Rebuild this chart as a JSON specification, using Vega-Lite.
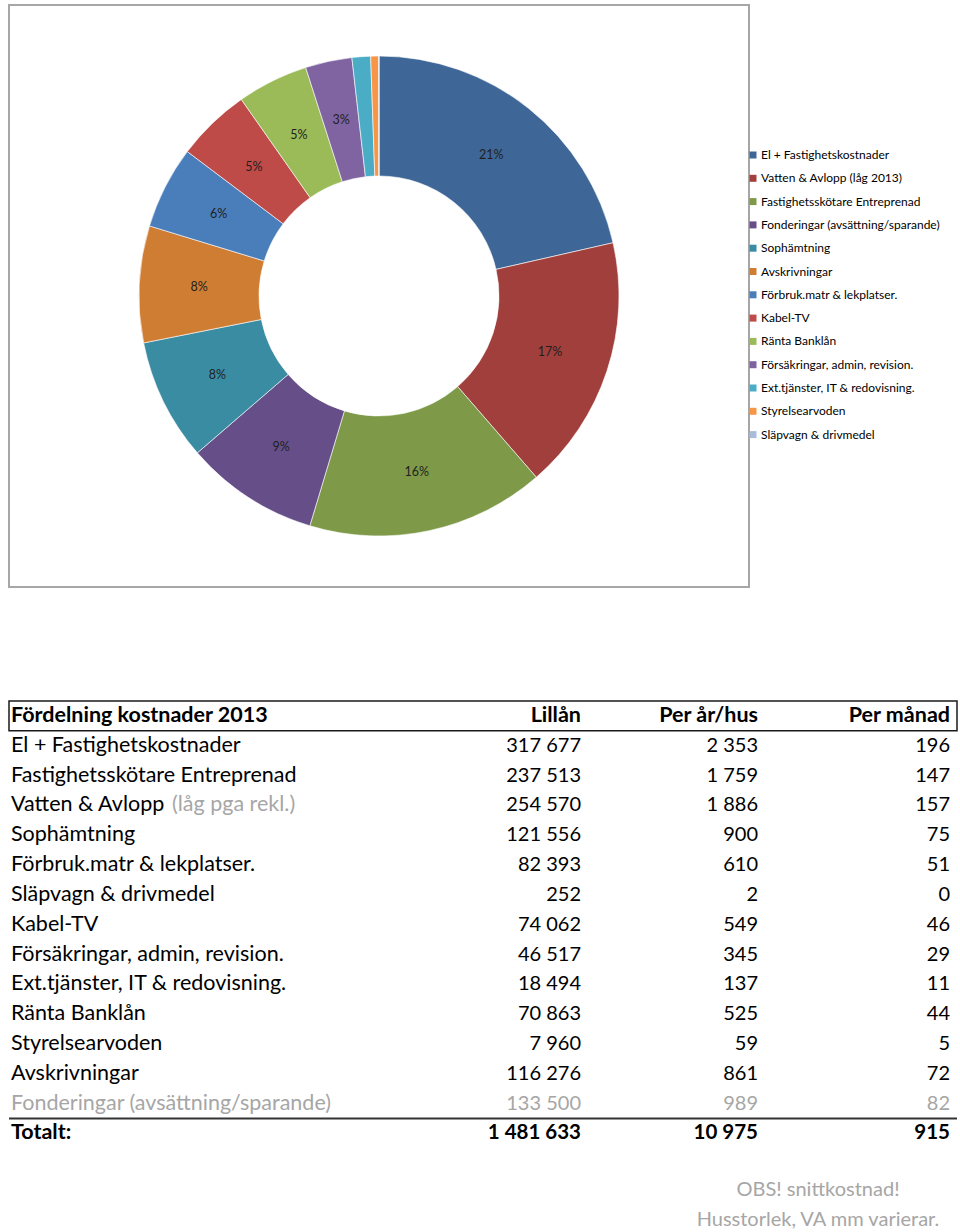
{
  "$schema": "https://vega.github.io/schema/vega-lite/v6.json",
  "padding": {"left": 8, "top": 4, "right": 4, "bottom": 0},
  "background": "white",
  "config": {"view": {"stroke": null}, "font": "Lato"},
  "datasets": {
    "costs": [
      {"idx": 1, "post": "El + Fastighetskostnader", "lillan": 317677, "pct": "21%"},
      {"idx": 2, "post": "Vatten & Avlopp (låg 2013)", "lillan": 254570, "pct": "17%"},
      {"idx": 3, "post": "Fastighetsskötare Entreprenad", "lillan": 237513, "pct": "16%"},
      {"idx": 4, "post": "Fonderingar (avsättning/sparande)", "lillan": 133500, "pct": "9%"},
      {"idx": 5, "post": "Sophämtning", "lillan": 121556, "pct": "8%"},
      {"idx": 6, "post": "Avskrivningar", "lillan": 116276, "pct": "8%"},
      {"idx": 7, "post": "Förbruk.matr & lekplatser.", "lillan": 82393, "pct": "6%"},
      {"idx": 8, "post": "Kabel-TV", "lillan": 74062, "pct": "5%"},
      {"idx": 9, "post": "Ränta Banklån", "lillan": 70863, "pct": "5%"},
      {"idx": 10, "post": "Försäkringar, admin, revision.", "lillan": 46517, "pct": "3%"},
      {"idx": 11, "post": "Ext.tjänster, IT & redovisning.", "lillan": 18494, "pct": "1%"},
      {"idx": 12, "post": "Styrelsearvoden", "lillan": 7960, "pct": "1%"},
      {"idx": 13, "post": "Släpvagn & drivmedel", "lillan": 252, "pct": "0%"}
    ],
    "table": [
      {"r": "h", "c": 0, "t": "Fördelning kostnader 2013", "kind": "header"},
      {"r": "h", "c": 1, "t": "Lillån", "kind": "header"},
      {"r": "h", "c": 2, "t": "Per år/hus", "kind": "header"},
      {"r": "h", "c": 3, "t": "Per månad", "kind": "header"},
      {"r": "r1", "c": 0, "t": "El + Fastighetskostnader", "kind": "item"},
      {"r": "r1", "c": 1, "t": "317 677", "kind": "item"},
      {"r": "r1", "c": 2, "t": "2 353", "kind": "item"},
      {"r": "r1", "c": 3, "t": "196", "kind": "item"},
      {"r": "r2", "c": 0, "t": "Fastighetsskötare Entreprenad", "kind": "item"},
      {"r": "r2", "c": 1, "t": "237 513", "kind": "item"},
      {"r": "r2", "c": 2, "t": "1 759", "kind": "item"},
      {"r": "r2", "c": 3, "t": "147", "kind": "item"},
      {"r": "r3", "c": 0, "t": "Vatten & Avlopp", "kind": "item"},
      {"r": "r3", "c": 0, "t": "(låg pga rekl.)", "kind": "remark"},
      {"r": "r3", "c": 1, "t": "254 570", "kind": "item"},
      {"r": "r3", "c": 2, "t": "1 886", "kind": "item"},
      {"r": "r3", "c": 3, "t": "157", "kind": "item"},
      {"r": "r4", "c": 0, "t": "Sophämtning", "kind": "item"},
      {"r": "r4", "c": 1, "t": "121 556", "kind": "item"},
      {"r": "r4", "c": 2, "t": "900", "kind": "item"},
      {"r": "r4", "c": 3, "t": "75", "kind": "item"},
      {"r": "r5", "c": 0, "t": "Förbruk.matr & lekplatser.", "kind": "item"},
      {"r": "r5", "c": 1, "t": "82 393", "kind": "item"},
      {"r": "r5", "c": 2, "t": "610", "kind": "item"},
      {"r": "r5", "c": 3, "t": "51", "kind": "item"},
      {"r": "r6", "c": 0, "t": "Släpvagn & drivmedel", "kind": "item"},
      {"r": "r6", "c": 1, "t": "252", "kind": "item"},
      {"r": "r6", "c": 2, "t": "2", "kind": "item"},
      {"r": "r6", "c": 3, "t": "0", "kind": "item"},
      {"r": "r7", "c": 0, "t": "Kabel-TV", "kind": "item"},
      {"r": "r7", "c": 1, "t": "74 062", "kind": "item"},
      {"r": "r7", "c": 2, "t": "549", "kind": "item"},
      {"r": "r7", "c": 3, "t": "46", "kind": "item"},
      {"r": "r8", "c": 0, "t": "Försäkringar, admin, revision.", "kind": "item"},
      {"r": "r8", "c": 1, "t": "46 517", "kind": "item"},
      {"r": "r8", "c": 2, "t": "345", "kind": "item"},
      {"r": "r8", "c": 3, "t": "29", "kind": "item"},
      {"r": "r9", "c": 0, "t": "Ext.tjänster, IT & redovisning.", "kind": "item"},
      {"r": "r9", "c": 1, "t": "18 494", "kind": "item"},
      {"r": "r9", "c": 2, "t": "137", "kind": "item"},
      {"r": "r9", "c": 3, "t": "11", "kind": "item"},
      {"r": "r10", "c": 0, "t": "Ränta Banklån", "kind": "item"},
      {"r": "r10", "c": 1, "t": "70 863", "kind": "item"},
      {"r": "r10", "c": 2, "t": "525", "kind": "item"},
      {"r": "r10", "c": 3, "t": "44", "kind": "item"},
      {"r": "r11", "c": 0, "t": "Styrelsearvoden", "kind": "item"},
      {"r": "r11", "c": 1, "t": "7 960", "kind": "item"},
      {"r": "r11", "c": 2, "t": "59", "kind": "item"},
      {"r": "r11", "c": 3, "t": "5", "kind": "item"},
      {"r": "r12", "c": 0, "t": "Avskrivningar", "kind": "item"},
      {"r": "r12", "c": 1, "t": "116 276", "kind": "item"},
      {"r": "r12", "c": 2, "t": "861", "kind": "item"},
      {"r": "r12", "c": 3, "t": "72", "kind": "item"},
      {"r": "r13", "c": 0, "t": "Fonderingar (avsättning/sparande)", "kind": "reserve"},
      {"r": "r13", "c": 1, "t": "133 500", "kind": "reserve"},
      {"r": "r13", "c": 2, "t": "989", "kind": "reserve"},
      {"r": "r13", "c": 3, "t": "82", "kind": "reserve"},
      {"r": "tot", "c": 0, "t": "Totalt:", "kind": "total"},
      {"r": "tot", "c": 1, "t": "1 481 633", "kind": "total"},
      {"r": "tot", "c": 2, "t": "10 975", "kind": "total"},
      {"r": "tot", "c": 3, "t": "915", "kind": "total"},
      {"r": "n1", "c": 3, "t": "OBS! snittkostnad!", "kind": "footnote"},
      {"r": "n2", "c": 3, "t": "Husstorlek, VA mm varierar.", "kind": "footnote"}
    ]
  },
  "vconcat": [
    {
      "width": 740,
      "height": 582,
      "view": {"stroke": "#a6a6a6", "strokeWidth": 2},
      "data": {"name": "costs"},
      "layer": [
        {
          "mark": {"type": "arc", "innerRadius": 120, "outerRadius": 240, "stroke": "#ffffff", "strokeWidth": 0.6},
          "encoding": {
            "theta": {"field": "lillan", "type": "quantitative", "stack": true},
            "order": {"field": "idx", "type": "quantitative"},
            "color": {
              "field": "post",
              "type": "nominal",
              "scale": {
                "domain": ["El + Fastighetskostnader", "Vatten & Avlopp (låg 2013)", "Fastighetsskötare Entreprenad", "Fonderingar (avsättning/sparande)", "Sophämtning", "Avskrivningar", "Förbruk.matr & lekplatser.", "Kabel-TV", "Ränta Banklån", "Försäkringar, admin, revision.", "Ext.tjänster, IT & redovisning.", "Styrelsearvoden", "Släpvagn & drivmedel"],
                "range": ["#3e6797", "#a13f3c", "#7e9a49", "#664f88", "#3a8ca3", "#d07d34", "#4a7ebb", "#be4b48", "#9bbb59", "#8064a2", "#4bacc6", "#f79646", "#a9bcd9"]
              },
              "legend": {
                "title": null,
                "orient": "none",
                "legendX": 738,
                "legendY": 144,
                "symbolType": "square",
                "symbolSize": 49,
                "symbolStrokeWidth": 0,
                "labelFontSize": 12,
                "labelColor": "#000000",
                "labelOffset": 2,
                "labelLimit": 400,
                "rowPadding": 11.3,
                "padding": 0
              }
            }
          }
        },
        {
          "transform": [{"filter": "datum.lillan > 20000"}],
          "mark": {"type": "text", "radius": 180, "fontSize": 12.5, "color": "#1f1f1f"},
          "encoding": {
            "theta": {"field": "lillan", "type": "quantitative", "stack": true},
            "order": {"field": "idx", "type": "quantitative"},
            "text": {"field": "pct", "type": "nominal"}
          }
        }
      ]
    },
    {
      "width": 948,
      "height": 507,
      "data": {"name": "table"},
      "encoding": {
        "y": {
          "field": "r",
          "type": "ordinal",
          "axis": null,
          "scale": {
            "domain": ["h", "r1", "r2", "r3", "r4", "r5", "r6", "r7", "r8", "r9", "r10", "r11", "r12", "r13", "tot", "n1", "n2"],
            "paddingInner": 0,
            "paddingOuter": 0
          }
        }
      },
      "layer": [
        {
          "transform": [{"filter": "datum.kind == 'header' && datum.c == 0"}],
          "mark": {"type": "rect", "filled": false, "stroke": "#1a1a1a", "strokeWidth": 1.5}
        },
        {
          "transform": [{"filter": "datum.kind == 'total' && datum.c == 0"}],
          "mark": {"type": "rule", "color": "#333333", "strokeWidth": 2},
          "encoding": {
            "y": {"field": "r", "type": "ordinal", "bandPosition": 0}
          }
        },
        {
          "transform": [{"filter": "(datum.kind == 'item' || datum.kind == 'reserve') && datum.c == 0"}],
          "mark": {"type": "text", "align": "left", "baseline": "middle", "fontSize": 21.5},
          "encoding": {
            "x": {"field": "c", "type": "quantitative", "axis": null, "scale": {"domain": [0, 1, 2, 3], "range": [2, 572, 749, 941], "zero": false, "nice": false}},
            "text": {"field": "t"},
            "color": {"condition": {"test": "datum.kind == 'reserve'", "value": "#a6a6a6"}, "value": "#000000"}
          }
        },
        {
          "transform": [{"filter": "(datum.kind == 'item' || datum.kind == 'reserve') && datum.c > 0"}],
          "mark": {"type": "text", "align": "right", "baseline": "middle", "fontSize": 20},
          "encoding": {
            "x": {"field": "c", "type": "quantitative", "axis": null, "scale": {"domain": [0, 1, 2, 3], "range": [2, 572, 749, 941], "zero": false, "nice": false}},
            "text": {"field": "t"},
            "color": {"condition": {"test": "datum.kind == 'reserve'", "value": "#a6a6a6"}, "value": "#000000"}
          }
        },
        {
          "transform": [{"filter": "(datum.kind == 'header' || datum.kind == 'total') && datum.c == 0"}],
          "mark": {"type": "text", "align": "left", "baseline": "middle", "fontSize": 21.5, "fontWeight": "bold", "color": "#000000"},
          "encoding": {
            "x": {"field": "c", "type": "quantitative", "axis": null, "scale": {"domain": [0, 1, 2, 3], "range": [2, 572, 749, 941], "zero": false, "nice": false}},
            "text": {"field": "t"}
          }
        },
        {
          "transform": [{"filter": "datum.kind == 'header' && datum.c > 0"}],
          "mark": {"type": "text", "align": "right", "baseline": "middle", "fontSize": 21.5, "fontWeight": "bold", "color": "#000000"},
          "encoding": {
            "x": {"field": "c", "type": "quantitative", "axis": null, "scale": {"domain": [0, 1, 2, 3], "range": [2, 572, 749, 941], "zero": false, "nice": false}},
            "text": {"field": "t"}
          }
        },
        {
          "transform": [{"filter": "datum.kind == 'total' && datum.c > 0"}],
          "mark": {"type": "text", "align": "right", "baseline": "middle", "fontSize": 20.5, "fontWeight": "bold", "color": "#000000"},
          "encoding": {
            "x": {"field": "c", "type": "quantitative", "axis": null, "scale": {"domain": [0, 1, 2, 3], "range": [2, 572, 749, 941], "zero": false, "nice": false}},
            "text": {"field": "t"}
          }
        },
        {
          "transform": [{"filter": "datum.kind == 'remark'"}],
          "mark": {"type": "text", "align": "left", "baseline": "middle", "fontSize": 21.5, "dx": 161, "color": "#a6a6a6"},
          "encoding": {
            "x": {"field": "c", "type": "quantitative", "axis": null, "scale": {"domain": [0, 1, 2, 3], "range": [2, 572, 749, 941], "zero": false, "nice": false}},
            "text": {"field": "t"}
          }
        },
        {
          "transform": [{"filter": "datum.kind == 'footnote'"}],
          "mark": {"type": "text", "align": "center", "baseline": "middle", "fontSize": 20, "dx": -132, "dy": 27, "color": "#a6a6a6"},
          "encoding": {
            "x": {"field": "c", "type": "quantitative", "axis": null, "scale": {"domain": [0, 1, 2, 3], "range": [2, 572, 749, 941], "zero": false, "nice": false}},
            "text": {"field": "t"}
          }
        }
      ]
    }
  ],
  "spacing": 112
}
